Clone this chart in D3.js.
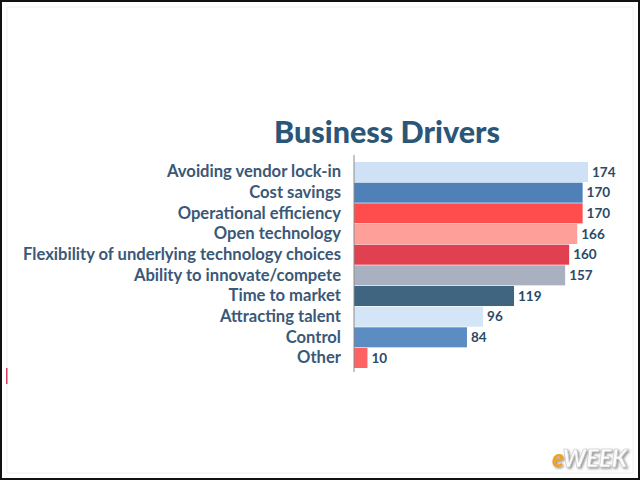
<!DOCTYPE html>
<html><head><meta charset="utf-8">
<script src="https://cdn.jsdelivr.net/npm/d3@7"></script>
<style>body{margin:0;background:#fff}svg{display:block}</style>
</head><body>
<svg id="c" width="640" height="480"></svg>
<script>
const categories = ["Avoiding vendor lock-in","Cost savings","Operational efficiency","Open technology","Flexibility of underlying technology choices","Ability to innovate/compete","Time to market","Attracting talent","Control","Other"];
const values = [174,170,170,166,160,157,119,96,84,10];
const colors = ["#cfe2f5","#4f81b8","#ff4d4d","#ff9f9a","#e0404f","#a9b0bf","#3f6580","#d3e5f7","#5b8dc2","#ff6262"];
const title = "Business Drivers";

const svg = d3.select("#c");
const defs = svg.append("defs");
const f = defs.append("filter").attr("id","sh").attr("x","-20%").attr("y","-20%").attr("width","150%").attr("height","150%");
f.append("feDropShadow").attr("dx",1.5).attr("dy",1.5).attr("stdDeviation",0.8).attr("flood-color","#777").attr("flood-opacity",0.8);

// slide frame
svg.append("rect").attr("x",1).attr("y",1).attr("width",638).attr("height",478)
  .attr("fill","none").attr("stroke","#111").attr("stroke-width",2);
svg.append("rect").attr("x",7).attr("y",7).attr("width",626).attr("height",466)
  .attr("fill","none").attr("stroke","#f0f0f0").attr("stroke-width",1);
svg.append("rect").attr("x",6).attr("y",368).attr("width",1.5).attr("height",16).attr("fill","#d0405a");

const x0 = 354;
const x = d3.scaleLinear().domain([0,174]).range([x0, 588]);
const y = d3.scaleBand().domain(categories).range([162, 368]).paddingInner(0.03).paddingOuter(0);

svg.append("text").attr("x",387).attr("y",143).attr("text-anchor","middle")
  .attr("font-family","Lato, sans-serif").attr("font-weight",900).attr("font-size",30.5)
  .attr("fill","#2b5678").text(title);

svg.selectAll("rect.bar").data(values).join("rect").attr("class","bar")
  .attr("x",x(0)).attr("y",(d,i)=>y(categories[i]))
  .attr("width",d=>x(d)-x(0)).attr("height",y.bandwidth())
  .attr("fill",(d,i)=>colors[i]);

const axis = svg.append("g").attr("transform",`translate(${x0},0)`)
  .call(d3.axisLeft(y).tickSize(0).tickPadding(13));
axis.select(".domain").attr("stroke","#8a8a8a").attr("d","M0,155V372");
axis.selectAll("text").attr("font-family","Lato, sans-serif").attr("font-weight",700)
  .attr("font-size",16.6).attr("fill","#3a5877");

svg.selectAll("text.val").data(values).join("text").attr("class","val")
  .attr("x",d=>x(d)+4).attr("y",(d,i)=>y(categories[i])+y.bandwidth()/2)
  .attr("dy","0.35em").attr("font-family","Lato, sans-serif").attr("font-weight",700)
  .attr("font-size",13.5).attr("fill","#2b4a66").text(d=>d);

// eWEEK logo
const lg = svg.append("text").attr("x",552).attr("y",467).attr("font-family","Lato, sans-serif").attr("font-weight",900)
  .attr("font-style","italic").attr("font-size",24).attr("filter","url(#sh)");
lg.append("tspan").attr("fill","#f0a020").text("e");
lg.append("tspan").attr("fill","#fbfbfb").attr("stroke","#c8c8c8").attr("stroke-width",0.6).text("WEEK");
</script>
</body></html>
